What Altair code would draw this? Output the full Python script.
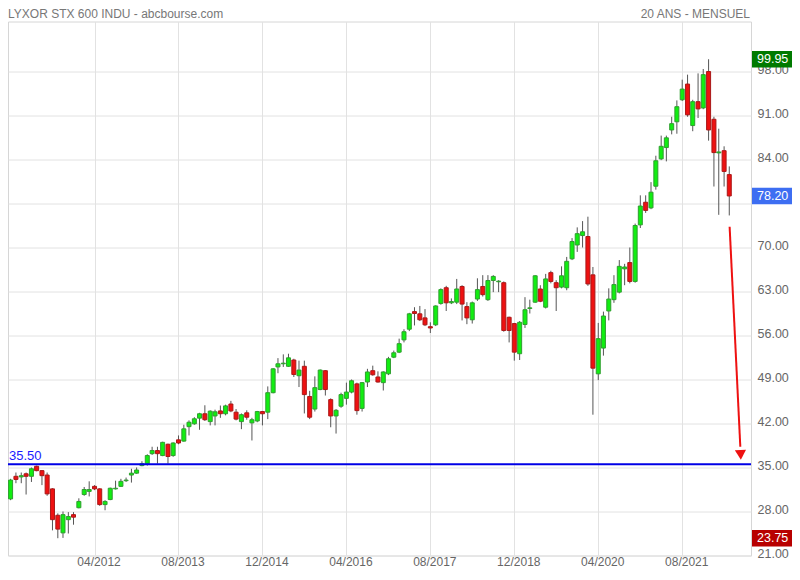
import altair as alt
import pandas as pd

# ---------------- data (monthly candles, 12/2010 -> 05/2022) ----------------
first_month = "2010-12-01"

opens = [30.0, 33.6, 33.5, 34.0, 33.6, 35.2, 34.5, 33.8, 31.6, 27.4, 24.6, 26.7, 27.5, 28.6, 30.7, 31.2,
         32.0, 31.6, 29.1, 29.9, 31.6, 32.0, 32.9, 33.8, 34.1, 35.3, 35.6, 37.2, 37.7, 36.9, 38.7, 36.9,
         39.4, 39.2, 41.5, 41.95, 42.85, 43.55, 42.3, 43.2, 44.0, 43.55, 45.1, 43.8, 42.3, 43.7, 42.1, 42.4,
         43.9, 43.8, 46.9, 51.0, 51.5, 51.1, 52.1, 49.6, 51.1, 46.3, 44.3, 47.4, 50.4, 45.8, 43.2, 44.75,
         46.0, 47.0, 48.3, 44.4, 48.6, 50.4, 49.4, 48.5, 49.9, 52.55, 53.35, 55.3, 57.0, 59.8, 59.45, 58.8,
         57.4, 57.7, 61.1, 63.6, 61.2, 61.3, 63.8, 60.6, 58.5, 61.8, 63.8, 61.7, 64.75, 64.55, 64.4, 58.9,
         57.9, 53.1, 57.75, 60.3, 61.3, 63.4, 60.5, 66.0, 64.4, 63.7, 63.6, 68.2, 70.4, 71.9, 71.75, 65.65,
         49.9, 54.0, 59.9, 61.7, 62.9, 66.6, 67.6, 64.6, 73.6, 77.2, 76.3, 79.75, 84.1, 85.9, 88.7, 90.0,
         93.5, 96.0, 89.4, 93.2, 92.2, 98.0, 90.4, 85.05, 85.4, 81.6]

highs = [33.2, 34.2, 34.2, 34.2, 35.0, 35.3, 34.6, 34.2, 31.7, 27.7, 28.0, 27.9, 27.9, 30.1, 31.9, 32.8,
         32.2, 31.7, 29.8, 31.8, 32.9, 33.2, 33.4, 34.8, 35.0, 36.0, 37.1, 38.3, 38.3, 39.1, 38.8, 39.0,
         40.1, 41.8, 42.5, 43.0, 43.7, 44.9, 44.1, 44.2, 44.86, 45.0, 45.6, 44.3, 43.6, 44.1, 42.9, 44.0,
         44.0, 47.9, 50.8, 52.4, 53.0, 53.1, 52.3, 52.0, 52.0, 47.2, 49.5, 50.6, 50.5, 46.0, 44.3, 46.9,
         48.5, 49.0, 48.5, 48.6, 50.7, 51.2, 50.3, 50.3, 52.6, 53.6, 55.5, 57.0, 59.6, 60.5, 60.7, 60.2,
         58.1, 60.8, 63.5, 63.9, 61.9, 65.0, 64.0, 61.3, 61.4, 65.1, 65.6, 65.6, 65.6, 64.8, 64.6, 59.0,
         58.0, 58.3, 62.1, 61.7, 65.6, 64.0, 65.8, 66.3, 64.8, 67.0, 68.5, 71.5, 73.2, 74.2, 74.9, 66.9,
         58.0, 59.8, 63.5, 65.6, 68.0, 67.4, 70.0, 73.8, 78.3, 78.3, 80.4, 84.6, 87.8, 87.8, 90.8, 93.4,
         96.7, 97.5, 93.5, 97.7, 98.4, 99.95, 90.8, 88.9, 86.1, 82.9]

lows = [29.8, 32.5, 32.5, 30.7, 32.7, 34.4, 32.2, 30.5, 25.0, 23.75, 23.8, 24.5, 25.9, 28.5, 30.5, 30.4,
        31.4, 28.9, 28.2, 29.8, 31.5, 31.9, 32.7, 32.6, 34.0, 35.2, 35.3, 37.0, 35.6, 36.8, 35.6, 36.7,
        38.7, 39.1, 40.1, 41.8, 41.0, 42.4, 41.7, 41.7, 42.9, 43.3, 43.8, 42.5, 41.1, 42.6, 39.3, 42.2,
        41.7, 42.7, 46.8, 50.0, 51.0, 51.0, 49.4, 47.8, 43.6, 42.7, 43.9, 47.3, 46.45, 41.4, 40.4, 44.5,
        45.0, 46.8, 43.4, 43.9, 47.8, 49.6, 48.5, 47.25, 49.7, 52.4, 53.2, 54.9, 56.7, 57.6, 58.3, 57.5,
        56.4, 57.5, 60.9, 59.9, 61.0, 61.0, 58.4, 57.8, 57.9, 61.5, 62.2, 61.5, 62.9, 62.9, 56.6, 54.9,
        52.0, 52.1, 57.2, 59.5, 61.2, 61.3, 60.3, 64.3, 59.9, 63.5, 63.2, 68.0, 69.3, 70.0, 63.9, 43.4,
        48.9, 52.8, 58.4, 61.2, 62.7, 64.0, 64.3, 64.4, 73.1, 75.5, 76.1, 79.2, 83.9, 83.7, 88.0, 88.1,
        93.3, 90.8, 88.5, 90.6, 92.0, 87.0, 79.7, 75.2, 79.7, 75.1]

closes = [33.0, 33.1, 33.7, 33.6, 34.8, 34.5, 33.7, 30.8, 26.7, 25.2, 27.5, 27.2, 27.1, 29.6, 31.5, 31.5,
          31.6, 29.1, 29.6, 31.7, 31.7, 32.8, 33.0, 34.1, 34.6, 35.6, 36.9, 37.7, 37.2, 39.0, 36.75, 38.9,
          38.9, 41.15, 42.2, 42.75, 43.55, 42.6, 43.96, 43.86, 43.55, 44.8, 44.0, 42.7, 43.4, 43.0, 42.6, 43.9,
          43.55, 46.9, 50.7, 51.5, 51.6, 52.45, 49.8, 50.5, 46.6, 43.0, 47.7, 50.5, 47.4, 43.2, 44.1, 46.6,
          47.0, 48.8, 44.05, 48.5, 50.2, 49.75, 48.6, 50.2, 52.3, 53.25, 54.7, 56.6, 59.45, 59.5, 58.5, 57.7,
          57.2, 60.7, 63.3, 61.2, 61.4, 63.4, 61.0, 58.8, 61.2, 63.3, 62.5, 64.75, 65.4, 64.65, 56.8, 56.8,
          53.35, 58.1, 60.1, 60.4, 65.5, 61.45, 65.0, 64.6, 63.6, 65.5, 67.8, 70.95, 72.2, 72.5, 64.2, 50.8,
          55.5, 59.1, 61.8, 64.1, 67.0, 66.9, 64.6, 73.5, 76.6, 75.9, 78.8, 83.8, 86.1, 87.45, 89.7, 92.4,
          95.2, 91.1, 93.2, 92.05, 97.5, 88.7, 85.1, 85.2, 82.1, 78.2]

tick_dates = [(2012, 4), (2013, 8), (2014, 12), (2016, 4), (2017, 8), (2018, 12), (2020, 4), (2021, 8)]
y_ticks = [21, 28, 35, 42, 49, 56, 63, 70, 77, 84, 91, 98]
hidden_y_label = 77

support_level = [35.50]
price_kinds = ["high", "last", "low"]
price_values = [99.95, 78.20, 23.75]

arrow_start = ["2022-05-03T00:00:00"]
arrow_end = ["2022-07-04T00:00:00"]
arrow_from = [73.3]
arrow_to = [38.3]
arrow_head_date = ["2022-07-06T00:00:00"]
arrow_head_value = [37.0]

title_left = "LYXOR STX 600 INDU - abcbourse.com"
title_right = "20 ANS - MENSUEL"

# ---------------- tables ----------------
months = pd.date_range(first_month, periods=len(opens), freq="MS").strftime("%Y-%m-%dT00:00:00").tolist()
df = pd.DataFrame({"month": months, "open": opens, "high": highs, "low": lows, "close": closes})
df["dir"] = ["up" if c >= o else "down" for o, c in zip(opens, closes)]

FONT = "Liberation Sans"
W, H = 743, 534
PX_PER_UNIT = 44 / 7.0

x_scale = alt.Scale(domain=[alt.DateTime(year=2010, month=11, date=16),
                            alt.DateTime(year=2022, month=9, date=4)], padding=0, nice=False)
y_scale = alt.Scale(domain=[21, 21 + H / PX_PER_UNIT], nice=False, zero=False, padding=0)

x_axis = alt.Axis(values=[alt.DateTime(year=y, month=m, date=1) for y, m in tick_dates],
                  format="%m/%Y", title=None, grid=True, gridColor="#e2e2e2", ticks=False,
                  domain=False, labelColor="#666666", labelFontSize=12, labelPadding=1,
                  labelOffset=4, labelFont=FONT)
y_axis = alt.Axis(orient="right", values=y_ticks, title=None, grid=True,
                  labelExpr=f"datum.value == {hidden_y_label} ? '' : format(datum.value, '.2f')",
                  gridColor="#e2e2e2", ticks=False, domain=False, labelColor="#666666",
                  labelFontSize=12.5, labelPadding=6, labelFont=FONT, labelOffset=-2)

base = alt.Chart(df)

wicks = base.mark_rule(color="#555555", strokeWidth=1).encode(
    x=alt.X("month:T", scale=x_scale, axis=x_axis),
    y=alt.Y("low:Q", scale=y_scale, axis=y_axis),
    y2="high:Q",
)

bodies = base.mark_bar(width=4, strokeWidth=1).encode(
    x=alt.X("month:T", scale=x_scale),
    y=alt.Y("open:Q", scale=y_scale),
    y2="close:Q",
    fill=alt.Fill("dir:N", scale=alt.Scale(domain=["up", "down"], range=["#11ee11", "#ee1111"]), legend=None),
    stroke=alt.Stroke("dir:N", scale=alt.Scale(domain=["up", "down"], range=["#2f9e2f", "#aa1818"]), legend=None),
)

sup_df = pd.DataFrame({"v": support_level, "label": [f"{v:.2f}" for v in support_level]})
support = alt.Chart(sup_df).mark_rule(color="#0000e6", strokeWidth=2).encode(
    y=alt.Y("v:Q", scale=y_scale)
)
support_label = alt.Chart(sup_df).mark_text(
    align="left", baseline="alphabetic", dy=-4, color="#1a1aff", fontSize=13, font=FONT
).encode(x=alt.value(1), y=alt.Y("v:Q", scale=y_scale), text="label:N")

arrow_df = pd.DataFrame({"x1": arrow_start, "x2": arrow_end, "y1": arrow_from, "y2": arrow_to})
arrow_line = alt.Chart(arrow_df).mark_rule(color="#ee1111", strokeWidth=2).encode(
    x=alt.X("x1:T", scale=x_scale), x2="x2:T",
    y=alt.Y("y1:Q", scale=y_scale), y2="y2:Q",
)
head_df = pd.DataFrame({"x": arrow_head_date, "y": arrow_head_value})
arrow_head = alt.Chart(head_df).mark_point(
    shape="triangle-down", filled=True, size=125, angle=357.3, color="#ee1111", opacity=1
).encode(x=alt.X("x:T", scale=x_scale), y=alt.Y("y:Q", scale=y_scale))

price_df = pd.DataFrame({"kind": price_kinds, "v": price_values,
                         "label": [f"{v:.2f}" for v in price_values]})
price_color = alt.Color("kind:N", scale=alt.Scale(domain=["high", "last", "low"],
                                                  range=["#007a00", "#3d6ef2", "#b80000"]), legend=None)
price_boxes = alt.Chart(price_df).mark_tick(orient="horizontal", size=48, thickness=16.5, opacity=1).encode(
    x=alt.value(768), y=alt.Y("v:Q", scale=y_scale), color=price_color
)
price_text = alt.Chart(price_df).mark_text(
    align="left", baseline="middle", color="white", fontSize=12.5, font=FONT
).encode(x=alt.value(749), y=alt.Y("v:Q", scale=y_scale), text="label:N")

title_df = pd.DataFrame({"t": [title_left]})
title_l = alt.Chart(title_df).mark_text(
    align="left", baseline="alphabetic", color="#777777", fontSize=12, font=FONT
).encode(x=alt.value(0), y=alt.value(-4), text="t:N")
title_df2 = pd.DataFrame({"t": [title_right]})
title_r = alt.Chart(title_df2).mark_text(
    align="right", baseline="alphabetic", color="#777777", fontSize=12, font=FONT
).encode(x=alt.value(W - 1), y=alt.value(-4), text="t:N")

chart = alt.layer(
    wicks, bodies, support, support_label, arrow_line, arrow_head,
    price_boxes, price_text, title_l, title_r
).properties(
    width=W, height=H,
    autosize=alt.AutoSizeParams(type="none"),
    padding={"left": 0, "top": 13.5, "right": 41, "bottom": 12.5},
    background="white",
).configure_view(stroke="#d6d6d6", strokeWidth=1)

chart.save("out.html", embed_options={"renderer": "svg", "actions": False})
